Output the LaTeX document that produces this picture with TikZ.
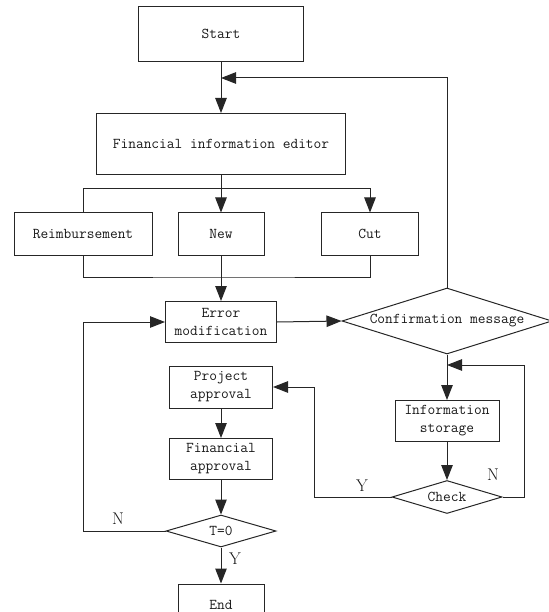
\documentclass[tikz,border=0pt]{standalone}
\usepackage{tikz}
\usetikzlibrary{arrows.meta,shapes.geometric}

\begin{document}
\begin{tikzpicture}[x=1pt,y=-1pt,
	line/.style={draw=black!85, line width=1pt},
	arr/.style={line, -{Triangle[length=15pt,width=11.5pt]}},
	box/.style={line, rectangle, minimum height=42pt, inner sep=0pt, align=center,
		font=\ttfamily\fontsize{15}{18}\selectfont, text=black!90},
	test/.style={box, diamond, aspect=3},
	yn/.style={font=\fontsize{17}{19}\selectfont, text=black!90}]
	
	% Fix the size of the page
	\useasboundingbox (0,0) rectangle (548,612);
	
	% Main column
	\node[box, minimum width=165pt, minimum height=55pt] (start) at (221,34) {Start};
	\node[box, minimum width=249pt, minimum height=61pt] (editor) at (221,144) {Financial information editor};
	
	% The three operations
	\node[box, minimum width=138pt] (reimb) at (83,234) {Reimbursement};
	\node[box, minimum width=86pt] (new) at (221,234) {New};
	\node[box, minimum width=97pt] (cut) at (370,234) {Cut};
	
	\node[box, minimum width=111pt, minimum height=41pt] (error) at (221,322) {Error\\modification};
	\node[test, minimum width=210pt, minimum height=66pt] (confirm) at (447,321) {Confirmation message};
	
	% Approval column
	\node[box, minimum width=103pt] (project) at (221,387) {Project\\approval};
	\node[box, minimum width=103pt, minimum height=41pt] (finance) at (221,459) {Financial\\approval};
	\node[test, minimum width=110pt, minimum height=32pt] (tzero) at (221,531) {T=0};
	\node[box, minimum width=86pt] (stop) at (221,605) {End};
	
	% Storage column
	\node[box, minimum width=104pt, minimum height=41pt] (store) at (447,421) {Information\\storage};
	\node[test, minimum width=110pt, minimum height=33pt] (check) at (447,497) {Check};
	
	% Points where lines meet
	\coordinate (back) at (221,78);
	\coordinate (split) at (221,189);
	\coordinate (join) at (221,277);
	\coordinate (again) at (447,365);
	
	% Connectors
	\draw[arr] (start.south) -- (editor.north);
	\draw[arr] (confirm.north) |- (back);
	\draw[arr] (editor.south) -- (new.north);
	\draw[line] (reimb.north) |- (split);
	\draw[arr] (split) -| (cut.north);
	\draw[line] (reimb.south) |- (join) -| (cut.south);
	\draw[arr] (new.south) -- (error.north);
	\draw[arr] (error.east) -- (confirm.west);
	\draw[arr] (confirm.south) -- (store.north);
	\draw[arr] (store.south) -- (check.north);
	\draw[arr] (check.east) -- (524,497) |- (again);
	\draw[arr] (check.west) -- (314,497) |- (project.east);
	\draw[arr] (project.south) -- (finance.north);
	\draw[arr] (finance.south) -- (tzero.north);
	\draw[arr] (tzero.south) -- (stop.north);
	\draw[arr] (tzero.west) -- (83,531) |- (error.west);
	
	% Branch labels
	\node[yn] (no1) at (118,519) {N};
	\node[yn] (yes1) at (235,559) {Y};
	\node[yn] (yes2) at (362,486) {Y};
	\node[yn] (no2) at (493,475) {N};
\end{tikzpicture}
\end{document}
